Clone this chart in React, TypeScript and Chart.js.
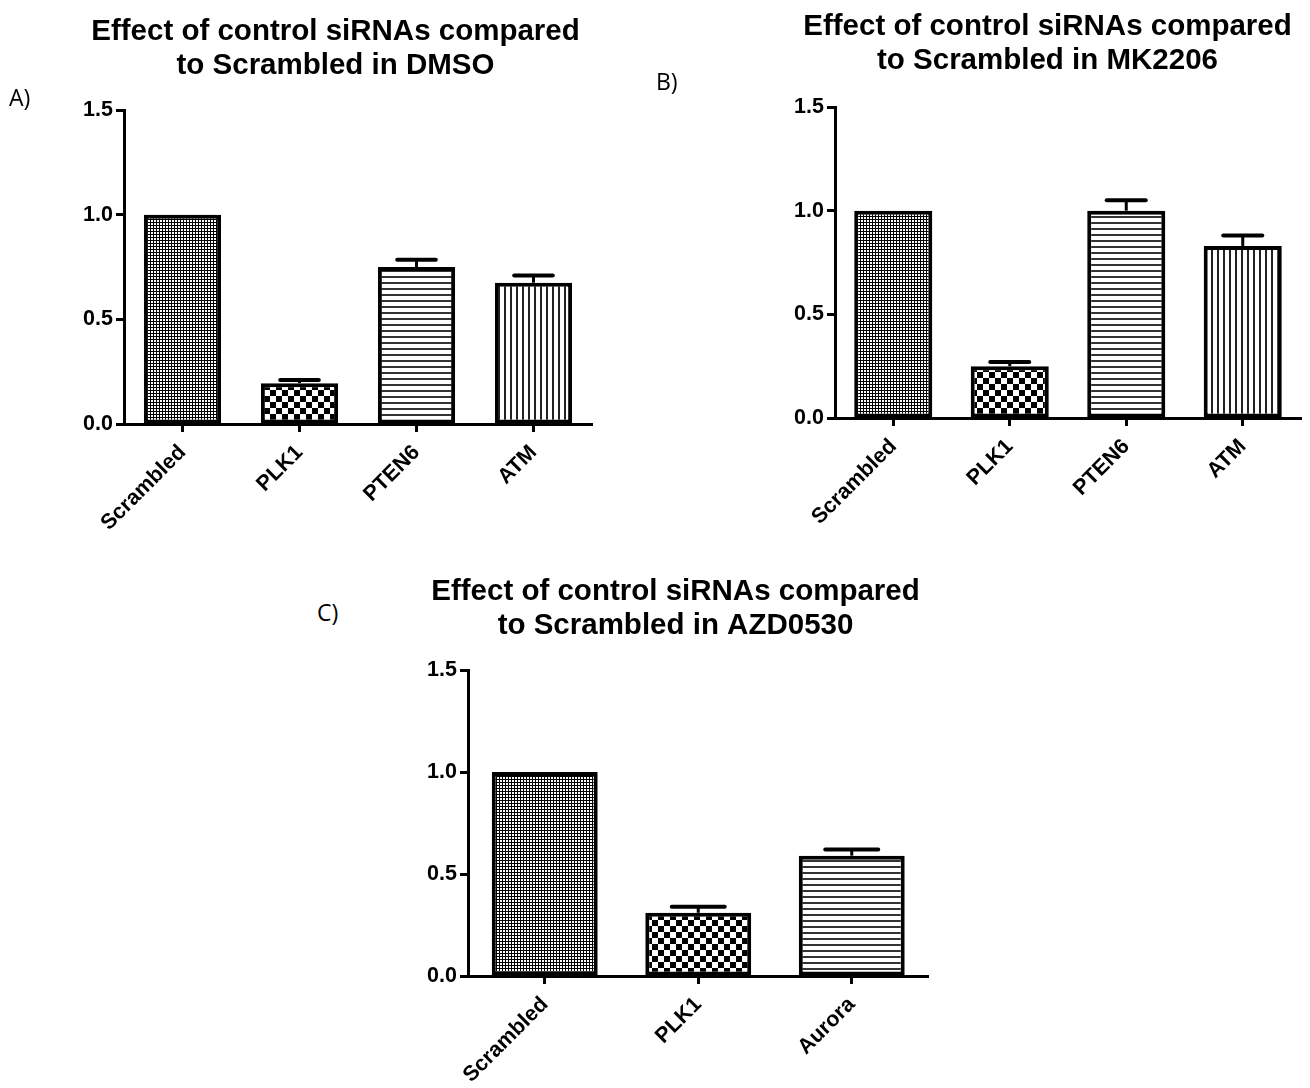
import React, { useEffect, useRef } from "react";
import { Chart, registerables } from "chart.js";

Chart.register(...registerables);

// ---------- data ----------
const titleA = ["Effect of control siRNAs compared", "to Scrambled in DMSO"];
const catsA = ["Scrambled", "PLK1", "PTEN6", "ATM"];
const valsA = [1.0, 0.195, 0.75, 0.675];
const errA = [0, 0.015, 0.035, 0.035];

const titleB = ["Effect of control siRNAs compared", "to Scrambled in MK2206"];
const catsB = ["Scrambled", "PLK1", "PTEN6", "ATM"];
const valsB = [1.0, 0.25, 1.0, 0.83];
const errB = [0, 0.02, 0.05, 0.05];

const titleC = ["Effect of control siRNAs compared", "to Scrambled in AZD0530"];
const catsC = ["Scrambled", "PLK1", "Aurora"];
const valsC = [1.0, 0.31, 0.59];
const errC = [0, 0.03, 0.03];

const yTicks = [0, 0.5, 1.0, 1.5];
const patternsABC = ["fine", "checker", "hlines", "vlines"];

const FONT = "'Liberation Sans', Arial, sans-serif";

// ---------- patterns ----------
function makePattern(kind: string): CanvasPattern | string {
  const c = document.createElement("canvas");
  const ctx = c.getContext("2d");
  if (!ctx) return "#888";
  if (kind === "fine") {
    c.width = 3; c.height = 3;
    ctx.fillStyle = "#fff"; ctx.fillRect(0, 0, 3, 3);
    ctx.fillStyle = "#000";
    ctx.fillRect(0, 0, 3, 1);
    ctx.fillRect(0, 0, 1, 3);
  } else if (kind === "checker") {
    c.width = 12; c.height = 12;
    ctx.fillStyle = "#fff"; ctx.fillRect(0, 0, 12, 12);
    ctx.fillStyle = "#000";
    ctx.fillRect(0, 0, 6, 6);
    ctx.fillRect(6, 6, 6, 6);
  } else if (kind === "hlines") {
    c.width = 6; c.height = 6;
    ctx.fillStyle = "#fff"; ctx.fillRect(0, 0, 6, 6);
    ctx.fillStyle = "#333";
    ctx.fillRect(0, 0, 6, 2);
  } else {
    c.width = 6; c.height = 6;
    ctx.fillStyle = "#fff"; ctx.fillRect(0, 0, 6, 6);
    ctx.fillStyle = "#222";
    ctx.fillRect(0, 0, 2, 6);
  }
  const p = ctx.createPattern(c, "repeat");
  return p || "#888";
}

function errorPlugin(vals: number[], errs: number[]) {
  return {
    id: "errorBarsLocal",
    afterDatasetsDraw(chart: any) {
      const meta = chart.getDatasetMeta(0);
      const y = chart.scales.y;
      const ctx = chart.ctx;
      ctx.save();
      ctx.strokeStyle = "#000";
      meta.data.forEach((bar: any, i: number) => {
        if (!errs[i]) return;
        const top = y.getPixelForValue(vals[i]);
        const hi = y.getPixelForValue(vals[i] + errs[i]);
        const half = bar.width * 0.25;
        ctx.lineCap = "butt";
        ctx.lineWidth = 3;
        ctx.beginPath();
        ctx.moveTo(bar.x, top);
        ctx.lineTo(bar.x, hi);
        ctx.stroke();
        ctx.lineCap = "round";
        ctx.lineWidth = 4;
        ctx.beginPath();
        ctx.moveTo(bar.x - half, hi);
        ctx.lineTo(bar.x + half, hi);
        ctx.stroke();
      });
      ctx.restore();
    },
  };
}

type PanelProps = {
  left: number; top: number; width: number; height: number;
  title: string[]; cats: string[]; vals: number[]; errs: number[];
  leftW: number; rightW: number; bottomH: number;
  padTop: number; padBottom: number; barPct: number;
};

function Panel(p: PanelProps) {
  const ref = useRef<HTMLCanvasElement>(null);
  useEffect(() => {
    if (!ref.current) return;
    const bg = p.cats.map((_, i) => makePattern(patternsABC[i]));
    const chart = new Chart(ref.current, {
      type: "bar",
      data: {
        labels: p.cats,
        datasets: [{
          data: p.vals,
          backgroundColor: bg as any,
          borderColor: "#000",
          borderWidth: 4,
          borderSkipped: false,
          barPercentage: p.barPct,
          categoryPercentage: 1,
        }],
      },
      options: {
        responsive: false,
        maintainAspectRatio: false,
        animation: false,
        layout: { padding: 0 },
        plugins: {
          legend: { display: false },
          tooltip: { enabled: false },
          title: {
            display: true,
            text: p.title,
            color: "#000",
            font: { family: FONT, weight: "bold", size: 29.5, lineHeight: 1.15 },
            padding: { top: p.padTop, bottom: p.padBottom },
          },
        },
        scales: {
          x: {
            grid: { display: true, drawOnChartArea: false, offset: false, tickLength: 8, tickWidth: 3, tickColor: "#000" },
            border: { display: true, width: 3, color: "#000" },
            ticks: {
              color: "#000",
              maxRotation: 45, minRotation: 45,
              padding: 8,
              font: { family: FONT, weight: "bold", size: 21.5 },
            },
            afterFit: (s: any) => { s.height = p.bottomH; },
          },
          y: {
            min: 0, max: 1.5,
            afterBuildTicks: (s: any) => { s.ticks = yTicks.map((v) => ({ value: v })); },
            grid: { display: true, drawOnChartArea: false, tickLength: 8, tickWidth: 3, tickColor: "#000" },
            border: { display: true, width: 3, color: "#000" },
            ticks: {
              color: "#000",
              padding: 3,
              callback: (v: any) => Number(v).toFixed(1),
              font: { family: FONT, weight: "bold", size: 21.5 },
            },
            afterFit: (s: any) => { s.width = p.leftW; },
          },
          yR: {
            type: "linear",
            position: "right",
            display: true,
            grid: { display: false },
            border: { display: false },
            ticks: { display: false },
            afterFit: (s: any) => { s.width = p.rightW; },
          },
        },
      } as any,
      plugins: [errorPlugin(p.vals, p.errs)],
    });
    return () => chart.destroy();
  }, []);
  return (
    <canvas
      ref={ref}
      width={p.width}
      height={p.height}
      style={{ position: "absolute", left: p.left, top: p.top, width: p.width, height: p.height }}
    />
  );
}

const labelStyle: React.CSSProperties = {
  position: "absolute",
  fontFamily: "'Open Sans', 'Noto Sans', sans-serif",
  fontSize: 23,
  color: "#000",
  lineHeight: "28px",
};

export default function App() {
  return (
    <div style={{ position: "fixed", left: 0, top: 0, width: 1310, height: 1088, overflow: "hidden", background: "#fff" }}>
      <Panel left={0} top={0} width={671} height={544} title={titleA} cats={catsA} vals={valsA} errs={errA}
        leftW={124} rightW={79} bottomH={120} padTop={15} padBottom={27.2} barPct={0.66} />
      <Panel left={785} top={0} width={525} height={538} title={titleB} cats={catsB} vals={valsB} errs={errB}
        leftW={50} rightW={9} bottomH={120} padTop={10} padBottom={29.2} barPct={0.67} />
      <Panel left={400} top={560} width={551} height={528} title={titleC} cats={catsC} vals={valsC} errs={errC}
        leftW={68} rightW={22.5} bottomH={112} padTop={14.5} padBottom={27.7} barPct={0.69} />
      <div style={{ ...labelStyle, left: 9, top: 83 }}>A)</div>
      <div style={{ ...labelStyle, left: 656, top: 67 }}>B)</div>
      <div style={{ ...labelStyle, left: 317, top: 598 }}>C)</div>
    </div>
  );
}
